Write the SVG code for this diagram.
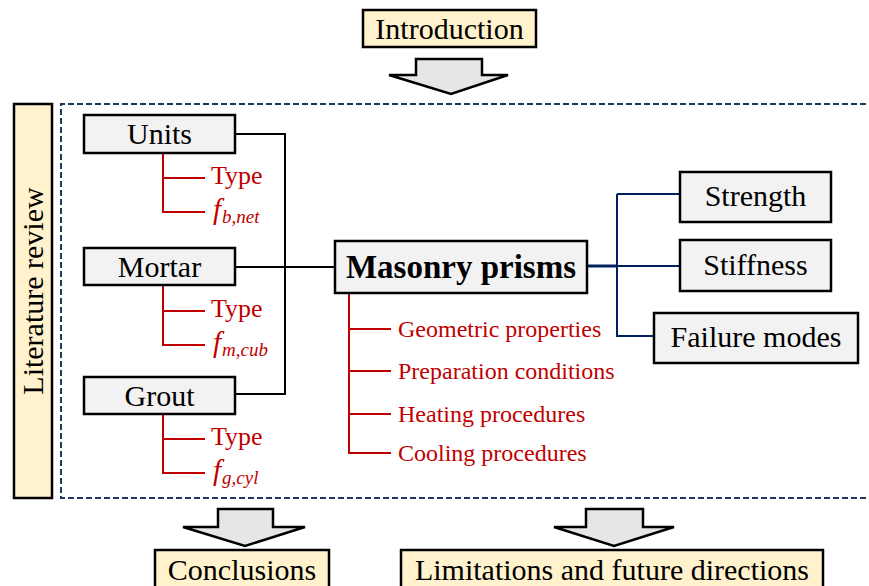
<svg xmlns="http://www.w3.org/2000/svg" width="869" height="586" viewBox="0 0 869 586">
<style>
.box{fill:#F2F2F2;stroke:#000;stroke-width:2.5}
.sec{fill:#FFF2CC;stroke:#000;stroke-width:2.5}
.arr{fill:#E6E6E6;stroke:#000;stroke-width:2.5;stroke-linejoin:miter}
.t{font-family:"Liberation Serif","Times New Roman",serif;font-size:30px;fill:#000;text-anchor:middle}
.b{font-weight:bold;font-size:33px}
.r{font-family:"Liberation Serif","Times New Roman",serif;font-size:26px;fill:#C00000}
.rs{font-family:"Liberation Serif","Times New Roman",serif;font-size:24px;fill:#C00000}
.fi{font-family:"Liberation Serif","Times New Roman",serif;font-style:italic;fill:#C00000;font-size:29px}
.sub{font-size:19px}
.k{fill:none;stroke:#000;stroke-width:2}
.red{fill:none;stroke:#C00000;stroke-width:2}
.blu{fill:none;stroke:#002060;stroke-width:2}
</style>
<rect width="869" height="586" fill="#fff"/>
<path d="M875 104 H61 V498 H875" fill="none" stroke="#203864" stroke-width="2" stroke-dasharray="6 3"/>
<g id="connectors">
<path class="k" d="M235 134 H285 V394 H235 M235 267 H335"/>
<path class="red" d="M163 153 V212 H205 M163 178 H205"/>
<path class="red" d="M163 285 V345 H205 M163 311 H205"/>
<path class="red" d="M163 414 V473 H205 M163 439 H205"/>
<path class="red" d="M349 293 V453 H391 M349 329 H391 M349 371 H391 M349 414 H391"/>
<path class="blu" d="M587 266 H680 M617 194 V337 M617 194 H680 M617 336 H654"/>
<path d="M587 266 H617" stroke="#002060" stroke-width="3" fill="none"/>
</g>
<g id="introduction">
<rect class="sec" x="363" y="10" width="173" height="37"/>
<text class="t" x="449.5" y="39">Introduction</text>
</g>
<polygon class="arr" points="416,59 482,59 482,75 508,75 451,94 389,75 416,75"/>
<g id="literature-review">
<rect class="sec" x="14" y="104" width="38" height="394"/>
<text class="t" transform="translate(43 291) rotate(-90)">Literature review</text>
</g>
<g id="units">
<rect class="box" x="84" y="115" width="151" height="38"/>
<text class="t" x="159.5" y="144">Units</text>
<text class="r" x="211" y="184">Type</text>
<text class="fi" x="213" y="219">f<tspan class="sub" dx="1" dy="4">b,net</tspan></text>
</g>
<g id="mortar">
<rect class="box" x="84" y="248" width="151" height="37"/>
<text class="t" x="159.5" y="277">Mortar</text>
<text class="r" x="211" y="317">Type</text>
<text class="fi" x="213" y="352">f<tspan class="sub" dx="1" dy="4">m,cub</tspan></text>
</g>
<g id="grout">
<rect class="box" x="84" y="377" width="151" height="37"/>
<text class="t" x="159.5" y="406">Grout</text>
<text class="r" x="211" y="445">Type</text>
<text class="fi" x="213" y="480">f<tspan class="sub" dx="1" dy="4">g,cyl</tspan></text>
</g>
<g id="masonry-prisms">
<rect class="box" x="335" y="241" width="252" height="52"/>
<text class="t b" x="461" y="278">Masonry prisms</text>
<text class="rs" x="398" y="337">Geometric properties</text>
<text class="rs" x="398" y="379">Preparation conditions</text>
<text class="rs" x="398" y="422">Heating procedures</text>
<text class="rs" x="398" y="461">Cooling procedures</text>
</g>
<g id="strength">
<rect class="box" x="680" y="172" width="151" height="50"/>
<text class="t" x="755.5" y="206">Strength</text>
</g>
<g id="stiffness">
<rect class="box" x="680" y="240" width="151" height="51"/>
<text class="t" x="755.5" y="275">Stiffness</text>
</g>
<g id="failure-modes">
<rect class="box" x="654" y="313" width="204" height="50"/>
<text class="t" x="756" y="347">Failure modes</text>
</g>
<polygon class="arr" points="218,509 273,509 273,527 305,527 245,546 183,527 218,527"/>
<polygon class="arr" points="586,509 643,509 643,527 674,527 614,546 554,527 586,527"/>
<g id="conclusions">
<rect class="sec" x="155" y="550" width="174" height="42"/>
<text class="t" x="242" y="580">Conclusions</text>
</g>
<g id="limitations">
<rect class="sec" x="401" y="550" width="422" height="42"/>
<text class="t" x="612" y="580">Limitations and future directions</text>
</g>
</svg>
